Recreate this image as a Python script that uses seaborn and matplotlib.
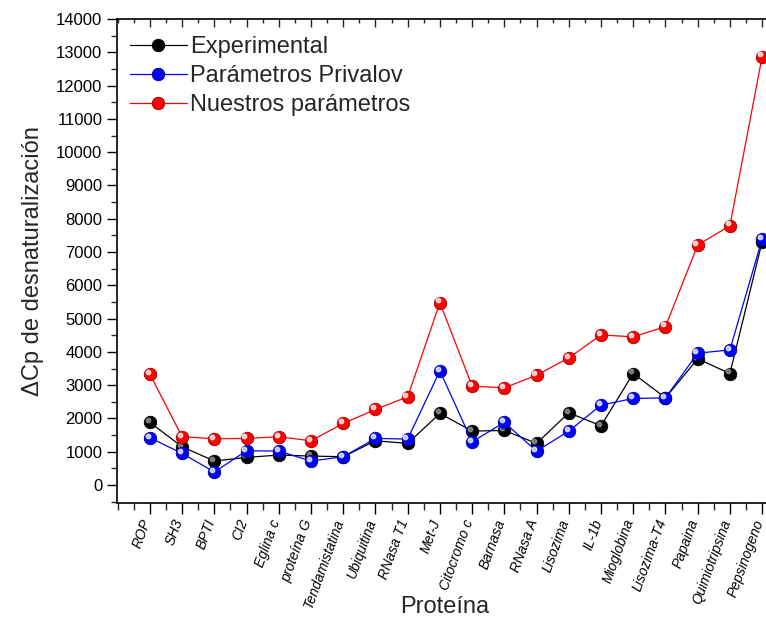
import numpy as np
import pandas as pd
import matplotlib
matplotlib.use("Agg")
import matplotlib.pyplot as plt
import matplotlib.transforms as mtransforms
from matplotlib.lines import Line2D
from matplotlib.ticker import MultipleLocator
import seaborn as sns

proteinas = ["ROP", "SH3", "BPTI", "CI2", "Eglina c", "proteína G", "Tendamistatina",
             "Ubiquitina", "RNasa T1", "Met-J", "Citocromo c", "Barnasa", "RNasa A",
             "Lisozima", "IL-1b", "Mioglobina", "Lisozima-T4", "Papaina",
             "Quimiotripsina", "Pepsinogeno"]
experimental = [1880, 1150, 720, 830, 900, 870, 850, 1330, 1250, 2150, 1620, 1640,
                1250, 2170, 1780, 3350, 2620, 3790, 3350, 7310]
privalov = [1420, 950, 390, 1030, 1020, 720, 850, 1400, 1380, 3430, 1300, 1880,
            1020, 1620, 2400, 2600, 2620, 3960, 4060, 7390]
nuestros = [3330, 1450, 1390, 1400, 1450, 1330, 1850, 2270, 2650, 5480, 2970, 2920,
            3300, 3820, 4510, 4450, 4760, 7210, 7790, 12870]
series = ["Experimental", "Parámetros Privalov", "Nuestros parámetros"]
colores = {"Experimental": "#000000", "Parámetros Privalov": "#0000ff",
           "Nuestros parámetros": "#ff0000"}
bordes = {"Experimental": "#000000", "Parámetros Privalov": "#00008a",
          "Nuestros parámetros": "#a00000"}

n = len(proteinas)
df = pd.DataFrame({
    "pos": list(range(n)) * 3,
    "valor": experimental + privalov + nuestros,
    "serie": [series[0]] * n + [series[1]] * n + [series[2]] * n,
})

sns.set_theme(style="white")
plt.rcParams["font.family"] = ["Liberation Sans", "DejaVu Sans"]

fig = plt.figure(figsize=(7.66, 6.39), dpi=100)
ax = fig.add_axes([117 / 766, 1 - 503 / 639, 1 - 117 / 766, (503 - 19) / 639])

fig_dpi = fig.dpi_scale_trans
offset = mtransforms.ScaledTranslation(-1.6 / 72, 1.6 / 72, fig_dpi)
handles = []
for s in series:
    sub = df[df["serie"] == s]
    sns.lineplot(data=sub, x="pos", y="valor", ax=ax, color=colores[s], lw=0.9,
                 marker="o", markersize=9, markeredgecolor=bordes[s],
                 markeredgewidth=0.6, markerfacecolor=colores[s], legend=False,
                 sort=False, estimator=None)
    hl = "#9a9a9a" if s == "Experimental" else "white"
    ax.plot(sub["pos"], sub["valor"], ls="none", marker="o", ms=3.2, color=hl,
            alpha=0.75, transform=ax.transData + offset)
    handles.append(Line2D([], [], color=colores[s], lw=0.9, marker="o",
                          markersize=9, markerfacecolor=colores[s],
                          markeredgecolor=bordes[s], markeredgewidth=0.6))

ax.set_xticks(range(n))
ax.set_xticklabels(proteinas, rotation=70, ha="right", va="center",
                   rotation_mode="anchor", fontsize=10, style="italic")
ax.xaxis.set_minor_locator(MultipleLocator(0.5))
ax.set_yticks(np.arange(0, 14001, 1000))
ax.yaxis.set_minor_locator(MultipleLocator(500))
ax.tick_params(axis="y", which="major", direction="out", length=7, width=1,
               labelsize=12, left=True, colors="black")
ax.tick_params(axis="y", which="minor", direction="out", length=4, width=1, left=True)
ax.tick_params(axis="x", which="major", direction="out", length=8, width=1,
               bottom=True, pad=4, colors="black")
ax.tick_params(axis="x", which="minor", direction="out", length=5, width=1, bottom=True)

nudge = mtransforms.ScaledTranslation(-2 / 72, 0, fig_dpi)
for lab in ax.get_xticklabels():
    lab.set_transform(lab.get_transform() + nudge)

sec = ax.secondary_xaxis("top")
sec.set_xticks(range(n))
sec.xaxis.set_minor_locator(MultipleLocator(0.5))
sec.tick_params(axis="x", which="major", direction="in", length=6, width=1,
                labeltop=False)
sec.tick_params(axis="x", which="minor", direction="in", length=3, width=1)
sec.spines["top"].set_linewidth(1.2)
sec.spines["top"].set_color("black")

for side in ["left", "bottom"]:
    ax.spines[side].set_color("black")
    ax.spines[side].set_linewidth(1.2)
ax.spines["right"].set_visible(False)
ax.spines["top"].set_visible(False)

ax.set_xlabel("Proteína", fontsize=17)
ax.set_ylabel("ΔCp de desnaturalización", fontsize=17)
ax.xaxis.set_label_coords(0.5 + (445 - 441.5) / 649, -(596 - 503) / 484)
ax.yaxis.set_label_coords(-(117 - 44) / 649, 0.5)

ax.legend(handles, series, loc="upper left", bbox_to_anchor=(0.02, 0.965),
          frameon=False, fontsize=17, handlelength=2.4, handletextpad=0.15,
          labelspacing=0.3, borderpad=0, borderaxespad=0)

ax.set_xlim(-1.02, 19.12)
ax.set_ylim(-540, 14000)

fig.savefig("out.png", dpi=100)
